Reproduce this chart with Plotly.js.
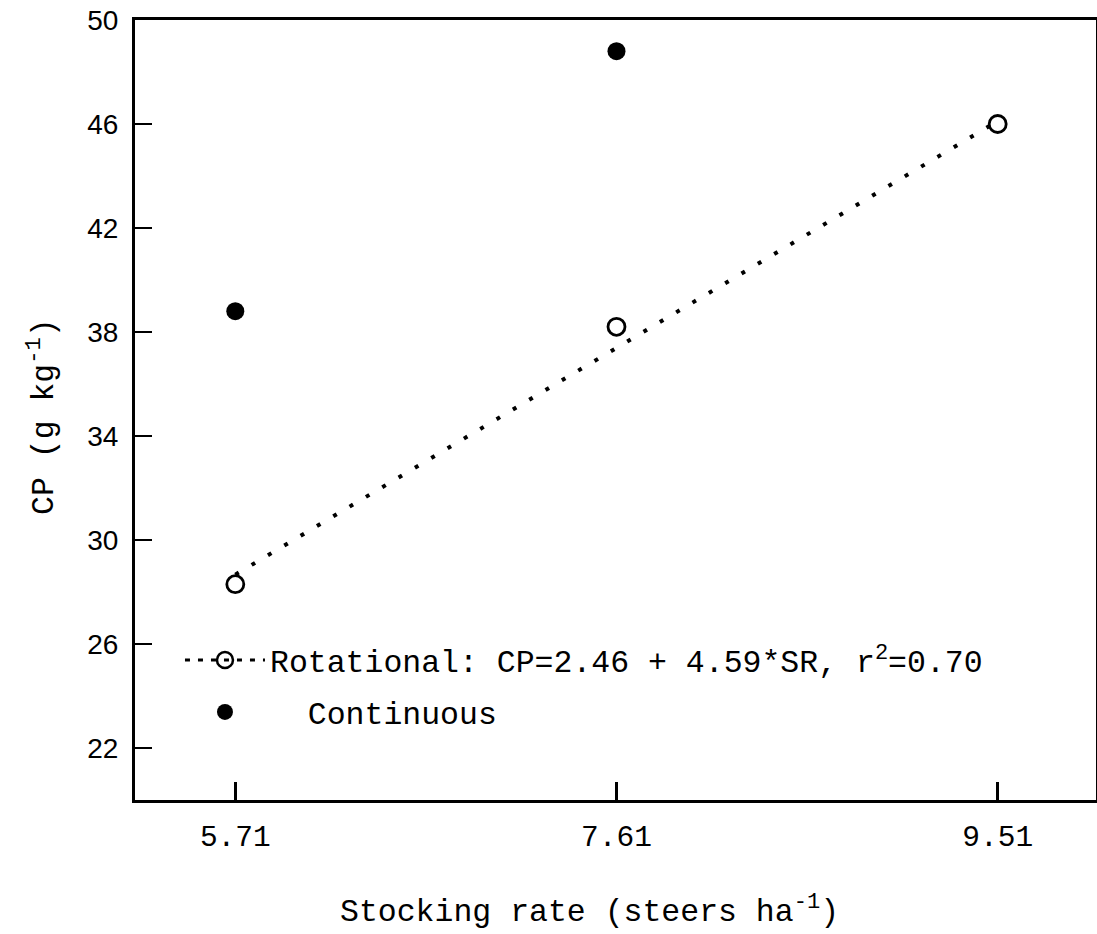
<!DOCTYPE html>
<html>
<head>
<meta charset="utf-8">
<script src="https://cdn.plot.ly/plotly-3.0.1.min.js"></script>
<style>
  html, body { margin: 0; padding: 0; background: #ffffff; }
  #chart { width: 1097px; height: 934px; }
</style>
</head>
<body>
<div id="chart"></div>
<script>
// Crude protein (CP) of forage vs. stocking rate, rotational and continuous grazing
const stockingRates = [5.71, 7.61, 9.51];
const rotationalCP = [28.3, 38.2, 46.0];
const continuousRates = [5.71, 7.61];
const continuousCP = [38.8, 48.8];

// Regression for rotational grazing: CP = a + b*SR, r^2 = 0.70
const fitIntercept = 2.46;
const fitSlope = 4.59;
const fitR2 = 0.70;

const yTicks = [22, 26, 30, 34, 38, 42, 46, 50];

const mono = 'Liberation Mono, Courier New, monospace';
const sans = 'Liberation Sans, Arial, sans-serif';

const fitX = [stockingRates[0], stockingRates[stockingRates.length - 1]];
const fitY = fitX.map(sr => fitIntercept + fitSlope * sr);

const rotLabel = 'Rotational: CP=' + fitIntercept.toFixed(2) + ' + ' + fitSlope.toFixed(2) +
  '*SR, r<sup>2</sup>=' + fitR2.toFixed(2);

const traces = [
  {
    // fitted line
    x: fitX, y: fitY, type: 'scatter', mode: 'lines',
    line: { color: '#000', width: 4, dash: '4px,15px' },
    showlegend: false, hoverinfo: 'skip'
  },
  {
    x: stockingRates, y: rotationalCP, type: 'scatter', mode: 'markers',
    marker: { symbol: 'circle-open', size: 17, color: '#000', line: { width: 2.8, color: '#000' } },
    showlegend: false
  },
  {
    x: continuousRates, y: continuousCP, type: 'scatter', mode: 'markers',
    marker: { symbol: 'circle', size: 18, color: '#000' },
    showlegend: false
  },
  {
    // legend entry for the rotational series (line + open marker)
    x: [null], y: [null], type: 'scatter', mode: 'lines+markers', name: rotLabel,
    legendgroup: 'rot',
    line: { color: '#000', width: 3, dash: '5px,8px' },
    marker: { symbol: 'circle-open', size: 16, color: '#000', line: { width: 2.5, color: '#000' } }
  },
  {
    x: [null], y: [null], type: 'scatter', mode: 'markers', name: '\u00A0\u00A0Continuous',
    legendgroup: 'cont',
    marker: { symbol: 'circle', size: 16, color: '#000' }
  }
];

const layout = {
  width: 1097, height: 934,
  margin: { l: 135, r: 1, t: 20, b: 134 },
  paper_bgcolor: '#fff', plot_bgcolor: '#fff',
  showlegend: true,
  legend: {
    x: 0.0468, y: 0.2141, xanchor: 'left', yanchor: 'top',
    bgcolor: 'rgba(0,0,0,0)', borderwidth: 0,
    itemwidth: 80, traceorder: 'grouped', tracegroupgap: 8,
    font: { family: mono, size: 31.5, color: '#000' }
  },
  xaxis: {
    range: [5.21, 10.0],
    tickvals: stockingRates, ticktext: stockingRates.map(v => v.toFixed(2)),
    ticks: 'inside', ticklen: 18, tickwidth: 2.5, tickcolor: '#000',
    ticklabelstandoff: 8,
    showline: true, linecolor: '#000', linewidth: 3, mirror: true,
    showgrid: false, zeroline: false,
    tickfont: { family: mono, size: 29.5, color: '#000' }
  },
  yaxis: {
    range: [20, 50],
    tickvals: yTicks,
    ticks: 'inside', ticklen: 17, tickwidth: 2.5, tickcolor: '#000',
    ticklabelstandoff: 8,
    showline: true, linecolor: '#000', linewidth: 3, mirror: true,
    showgrid: false, zeroline: false,
    tickfont: { family: sans, size: 28, color: '#000' }
  },
  annotations: [
    {
      text: 'Stocking rate (steers ha<sup>-1</sup>)',
      xref: 'paper', yref: 'paper', x: 0.2112, y: -0.169,
      xanchor: 'left', yanchor: 'bottom', showarrow: false,
      font: { family: mono, size: 31.5, color: '#000' }
    },
    {
      text: 'CP (g kg<sup>-1</sup>)', textangle: -90,
      xref: 'paper', yref: 'paper', x: -0.0968, y: 0.4923,
      xanchor: 'center', yanchor: 'middle', showarrow: false,
      font: { family: mono, size: 31.5, color: '#000' }
    }
  ]
};

Plotly.newPlot('chart', traces, layout, { displayModeBar: false, staticPlot: true });
</script>
</body>
</html>
